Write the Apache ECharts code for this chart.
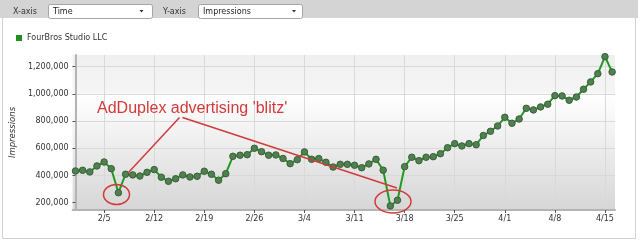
<!DOCTYPE html>
<html><head><meta charset="utf-8">
<script src="https://cdn.jsdelivr.net/npm/echarts@6/dist/echarts.min.js"></script>
<style>html,body{margin:0;padding:0;background:#fff}#c{width:640px;height:243px}</style>
</head><body><div id="c"></div>
<script>
const seriesName = 'FourBros Studio LLC';
const dates = [
 '2/1','2/2','2/3','2/4','2/5','2/6','2/7','2/8','2/9','2/10','2/11','2/12','2/13','2/14','2/15','2/16','2/17','2/18','2/19','2/20',
 '2/21','2/22','2/23','2/24','2/25','2/26','2/27','2/28','2/29','3/1','3/2','3/3','3/4','3/5','3/6','3/7','3/8','3/9','3/10','3/11',
 '3/12','3/13','3/14','3/15','3/16','3/17','3/18','3/19','3/20','3/21','3/22','3/23','3/24','3/25','3/26','3/27','3/28','3/29','3/30','3/31',
 '4/1','4/2','4/3','4/4','4/5','4/6','4/7','4/8','4/9','4/10','4/11','4/12','4/13','4/14','4/15','4/16'];
const impressions = [
 433000,438000,426000,470000,499000,450000,273000,409000,404000,396000,
 423000,443000,387000,357000,376000,404000,389000,394000,431000,409000,
 365000,413000,541000,549000,553000,600000,575000,549000,551000,525000,
 487000,516000,573000,519000,524000,497000,462000,482000,482000,475000,
 457000,485000,519000,439000,176000,218000,465000,534000,509000,534000,
 538000,560000,604000,634000,617000,634000,626000,694000,725000,764000,
 828000,784000,815000,894000,882000,904000,924000,987000,985000,953000,
 977000,1034000,1088000,1149000,1274000,1161000];
const xTickLabels = ['2/5','2/12','2/19','2/26','3/4','3/11','3/18','3/25','4/1','4/8','4/15'];
const yTickValues = [200000,400000,600000,800000,1000000,1200000];
const annotationText = "AdDuplex advertising 'blitz'";

const xTickIdx = xTickLabels.map(l => dates.indexOf(l));
const chart = echarts.init(document.getElementById('c'), null, {renderer:'canvas'});
const F = 'DejaVu Sans';
const RED = '#d23a3a';
chart.setOption({
  animation:false,
  textStyle:{fontFamily:F},
  grid:{left:69, right:25, top:55, bottom:33, show:true, borderWidth:0,
    backgroundColor:{type:'linear',x:0,y:0,x2:0,y2:1,colorStops:[
      {offset:0,color:'#efefef'},{offset:0.24,color:'#f5f5f5'},{offset:0.26,color:'#ffffff'},{offset:1,color:'#d6d6d6'}]}},
  legend:{left:11, top:29, icon:'rect', itemWidth:6, itemHeight:6, itemGap:5,
    textStyle:{fontFamily:F,fontSize:8,color:'#333'},
    data:[{name:seriesName, itemStyle:{color:'#1f8f1f', borderWidth:0}}]},
  xAxis:{type:'value', min:-0.4, max:75.4,
    axisLine:{show:true, onZero:false, lineStyle:{color:'#b4b4b4', width:2}},
    axisTick:{show:true, length:3, customValues:xTickIdx, lineStyle:{color:'#555'}},
    axisLabel:{customValues:xTickIdx, formatter:v=>dates[v], fontFamily:F, fontSize:8, color:'#333', margin:5},
    splitLine:{show:true, lineStyle:{color:'#d9d9d9', width:1}}},
  yAxis:{type:'value', min:146000, max:1286000, name:'Impressions', nameLocation:'middle', nameGap:50,
    nameTextStyle:{fontFamily:F, fontSize:8.5, fontStyle:'italic', color:'#333'},
    axisLine:{show:true, lineStyle:{color:'#b4b4b4', width:2}},
    axisTick:{show:true, length:3, customValues:yTickValues, lineStyle:{color:'#555'}},
    axisLabel:{customValues:yTickValues, formatter:v=>v.toLocaleString('en-US'), fontFamily:F, fontSize:8, color:'#333', margin:4},
    splitLine:{show:true, lineStyle:{color:'#d9d9d9', width:1}}},
  series:[{name:seriesName, type:'line', data:impressions.map((v,i)=>[i,v]),
    symbol:'circle', symbolSize:6.5, showSymbol:true,
    itemStyle:{color:'#4f804f', borderColor:'#3a5f3a', borderWidth:1},
    lineStyle:{color:'#1f9a1f', width:2}}],
  graphic:[
    {type:'rect', silent:true, z:-10, shape:{x:2.5,y:17.5,width:633,height:221}, style:{fill:'#fff', stroke:'#d2d2d2', lineWidth:1}},
    {type:'rect', silent:true, z:-5, shape:{x:0,y:0,width:638,height:18}, style:{fill:'#d4d4d4'}},
    {type:'text', x:13, y:11.5, style:{text:'X-axis', font:'8px "DejaVu Sans"', fill:'#333', verticalAlign:'middle'}},
    {type:'rect', shape:{x:48.5,y:4.5,width:104,height:14,r:2}, style:{fill:'#fff', stroke:'#a5a5a5', lineWidth:1}},
    {type:'text', x:53, y:11.5, style:{text:'Time', font:'8px "DejaVu Sans"', fill:'#222', verticalAlign:'middle'}},
    {type:'polygon', shape:{points:[[139.5,10],[143.5,10],[141.5,12.5]]}, style:{fill:'#333'}},
    {type:'text', x:163, y:11.5, style:{text:'Y-axis', font:'8px "DejaVu Sans"', fill:'#333', verticalAlign:'middle'}},
    {type:'rect', shape:{x:198.5,y:4.5,width:104,height:14,r:2}, style:{fill:'#fff', stroke:'#a5a5a5', lineWidth:1}},
    {type:'text', x:203, y:11.5, style:{text:'Impressions', font:'8px "DejaVu Sans"', fill:'#222', verticalAlign:'middle'}},
    {type:'polygon', shape:{points:[[292,10],[296,10],[294,12.5]]}, style:{fill:'#333'}},
    {type:'text', z:100, x:97, y:108.5, style:{text:annotationText, font:'16px "Liberation Sans"', fill:RED, verticalAlign:'middle'}},
    {type:'line', z:100, shape:{x1:179.5,y1:117.5,x2:128,y2:173}, style:{stroke:RED, lineWidth:1.5}},
    {type:'line', z:100, shape:{x1:182.5,y1:117.5,x2:397,y2:188}, style:{stroke:RED, lineWidth:1.5}},
    {type:'ellipse', z:100, shape:{cx:116.5,cy:194.5,rx:13,ry:10}, style:{fill:'none', stroke:RED, lineWidth:1.5}},
    {type:'ellipse', z:100, shape:{cx:393,cy:201.5,rx:18,ry:11.5}, style:{fill:'none', stroke:RED, lineWidth:1.5}}
  ]
});
</script></body></html>
